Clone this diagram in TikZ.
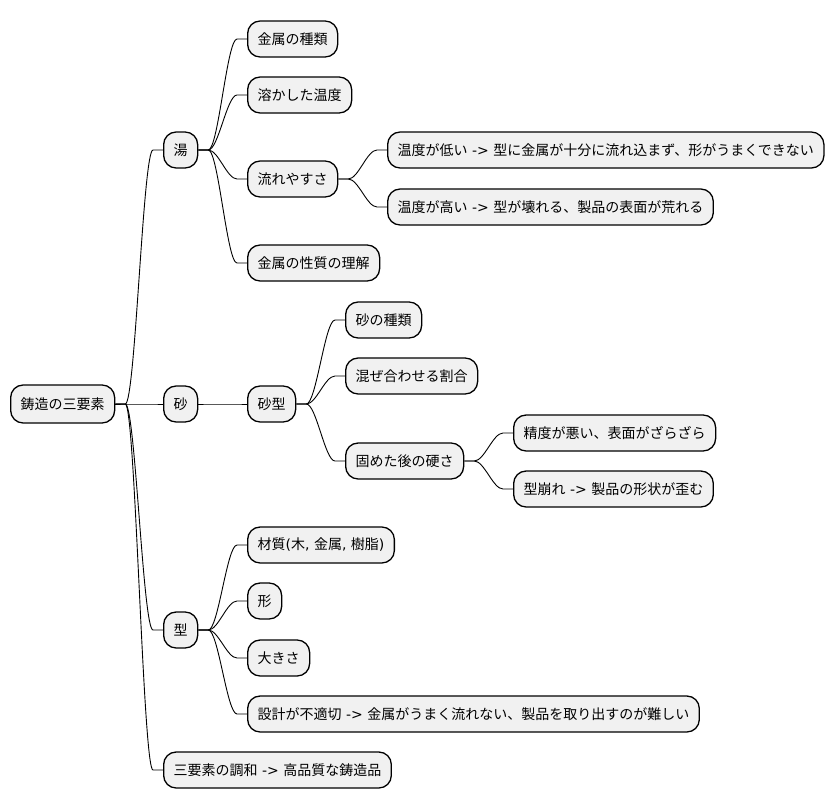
\documentclass[tikz,border=0pt]{standalone}
\usepackage{xcolor}
\usepackage{fontspec}
\setmainfont{Noto Sans CJK JP}
\newfontfamily\dejavufont{DejaVu Sans}
\newcommand\dvs[1]{{\dejavufont #1}}
\usepackage{tikz}

\definecolor{boxgray}{HTML}{F1F1F1}

\begin{document}
\begin{tikzpicture}[x=1pt, y=-1pt,
    idea/.style={draw, line width=1.3pt, fill=boxgray, rounded corners=12.5pt, anchor=west,
        minimum height=36pt, inner xsep=10pt, inner ysep=0pt, font=\fontsize{14pt}{16pt}\selectfont},
    link/.style={line width=0.9pt, to path={-- ++(10pt,0) .. controls +(10pt,0) and ([xshift=-20pt]\tikztotarget) .. ([xshift=-10pt]\tikztotarget) -- (\tikztotarget)}}]
    \useasboundingbox (0,0) rectangle (836,809);

    \node[idea, minimum height=38pt] (root) at (10,404) {鋳造の三要素};

    \node[idea] (yu) at (163,150) {湯};
    \node[idea] (suna) at (163,404) {砂};
    \node[idea] (kata) at (163,630) {型};
    \node[idea] (chowa) at (163,770) {三要素の調和\dvs{ -> }高品質な鋳造品};

    \node[idea] (kinzoku) at (247,39) {金属の種類};
    \node[idea] (ondo) at (247,95) {溶かした温度};
    \node[idea] (nagare) at (247,179) {流れやすさ};
    \node[idea] (seishitsu) at (247,263) {金属の性質の理解};
    \node[idea] (hikui) at (387,150) {温度が低い\dvs{ -> }型に金属が十分に流れ込まず、形がうまくできない};
    \node[idea] (takai) at (387,207) {温度が高い\dvs{ -> }型が壊れる、製品の表面が荒れる};

    \node[idea] (sunagata) at (247,404) {砂型};
    \node[idea] (shurui) at (345,320) {砂の種類};
    \node[idea] (wariai) at (345,376) {混ぜ合わせる割合};
    \node[idea] (katasa) at (345,461) {固めた後の硬さ};
    \node[idea] (seido) at (513,433) {精度が悪い、表面がざらざら};
    \node[idea] (kuzure) at (513,489) {型崩れ\dvs{ -> }製品の形状が歪む};

    \node[idea] (zaishitsu) at (247,545) {材質\dvs{(}木\dvs{, }金属\dvs{, }樹脂\dvs{)}};
    \node[idea] (katachi) at (247,601) {形};
    \node[idea] (ookisa) at (247,658) {大きさ};
    \node[idea] (sekkei) at (247,714) {設計が不適切\dvs{ -> }金属がうまく流れない、製品を取り出すのが難しい};

    \draw[link] (root.east) to (yu.west);
    \draw[link] (root.east) to (suna.west);
    \draw[link] (root.east) to (kata.west);
    \draw[link] (root.east) to (chowa.west);
    \draw[link] (yu.east) to (kinzoku.west);
    \draw[link] (yu.east) to (ondo.west);
    \draw[link] (yu.east) to (nagare.west);
    \draw[link] (yu.east) to (seishitsu.west);
    \draw[link] (nagare.east) to (hikui.west);
    \draw[link] (nagare.east) to (takai.west);
    \draw[link] (suna.east) to (sunagata.west);
    \draw[link] (sunagata.east) to (shurui.west);
    \draw[link] (sunagata.east) to (wariai.west);
    \draw[link] (sunagata.east) to (katasa.west);
    \draw[link] (katasa.east) to (seido.west);
    \draw[link] (katasa.east) to (kuzure.west);
    \draw[link] (kata.east) to (zaishitsu.west);
    \draw[link] (kata.east) to (katachi.west);
    \draw[link] (kata.east) to (ookisa.west);
    \draw[link] (kata.east) to (sekkei.west);
\end{tikzpicture}
\end{document}
